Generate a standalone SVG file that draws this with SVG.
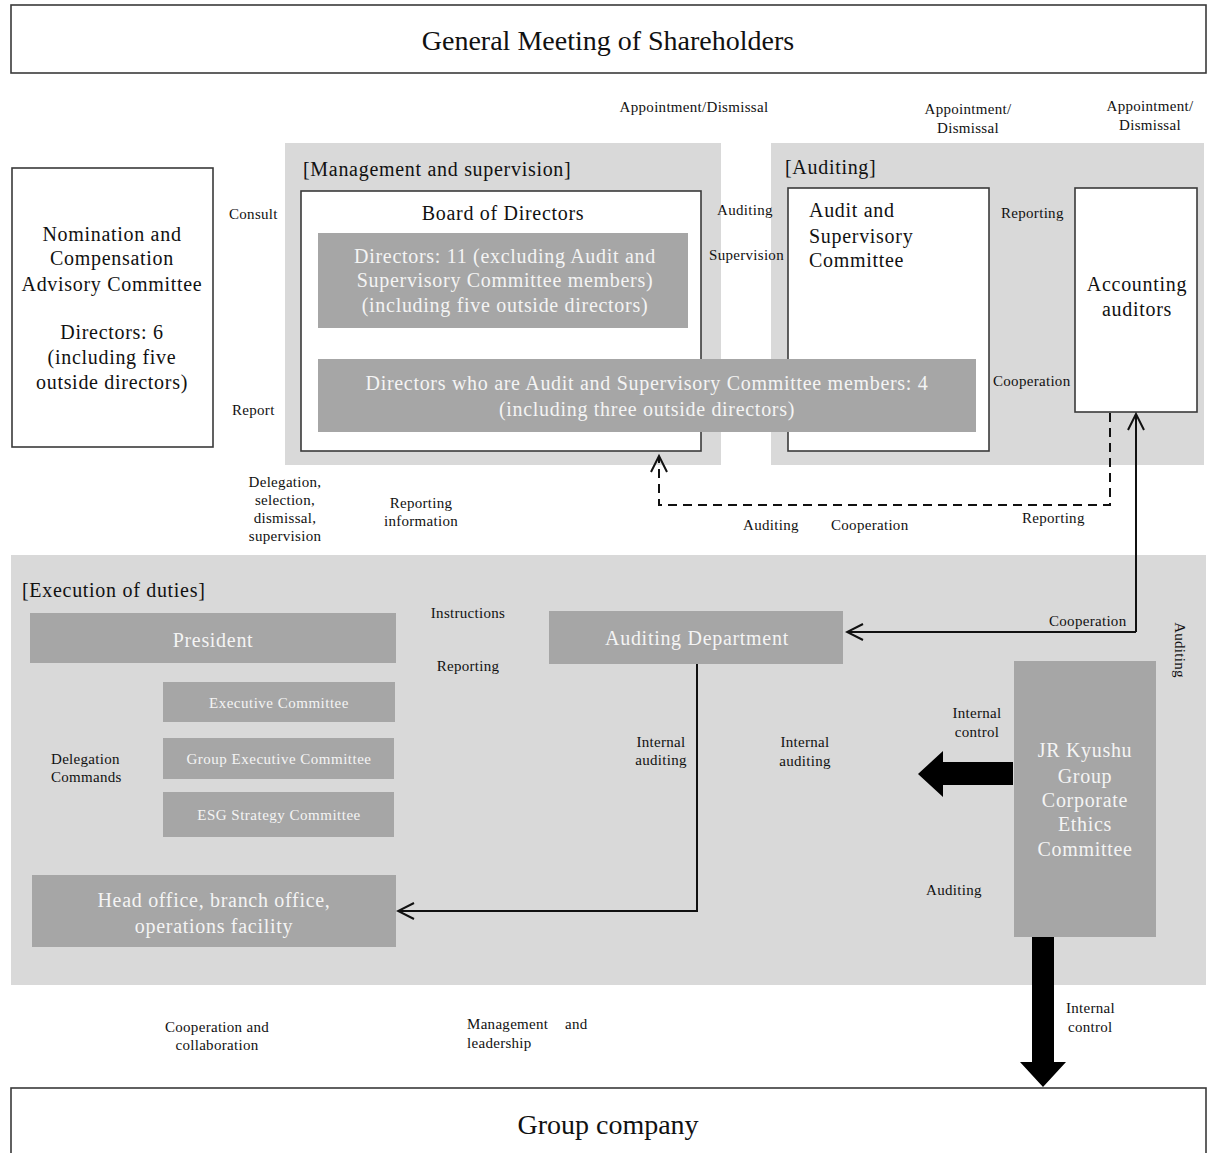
<svg xmlns="http://www.w3.org/2000/svg" width="1208" height="1153" viewBox="0 0 1208 1153">
<style>
text{font-family:"Liberation Serif","Times New Roman",serif;fill:#111}
.big{font-size:28px}
.m{font-size:20px;letter-spacing:0.7px}
.s{font-size:15px;letter-spacing:0.3px}
.xs{font-size:15px;letter-spacing:0.5px}
.w{fill:#f4f4f4}
.c{text-anchor:middle}
.area{fill:#d9d9d9}
.wb{fill:#fff;stroke:#3a3a3a;stroke-width:1.6}
.gb{fill:#a6a6a6}
.ln{fill:none;stroke:#111;stroke-width:2}
.dl{fill:none;stroke:#111;stroke-width:2;stroke-dasharray:9 6}
</style>
<defs>
<marker id="open" viewBox="0 0 20 20" refX="18" refY="10" markerWidth="20" markerHeight="20" markerUnits="userSpaceOnUse" orient="auto">
<path d="M2,2 L18,10 L2,18" fill="none" stroke="#111" stroke-width="2"/>
</marker>
</defs>
<rect width="1208" height="1153" fill="#fff"/>

<g id="areas">
<rect class="area" x="285" y="143" width="436" height="322"/>
<rect class="area" x="771" y="143" width="433" height="322"/>
<rect class="area" x="11" y="555" width="1195" height="430"/>
<text class="m" x="303" y="176">[Management and supervision]</text>
<text class="m" x="785" y="174">[Auditing]</text>
<text class="m" x="22" y="597">[Execution of duties]</text>
</g>

<g id="shareholders">
<rect class="wb" x="11" y="5" width="1195" height="68"/>
<text class="big c" x="608" y="50">General Meeting of Shareholders</text>
</g>

<g id="nomination">
<rect class="wb" x="12" y="168" width="201" height="279"/>
<text class="m c" x="112" y="241">Nomination and</text>
<text class="m c" x="112" y="265">Compensation</text>
<text class="m c" x="112" y="291">Advisory Committee</text>
<text class="m c" x="112" y="339">Directors: 6</text>
<text class="m c" x="112" y="364">(including five</text>
<text class="m c" x="112" y="389">outside directors)</text>
</g>

<g id="board">
<rect class="wb" x="301" y="191" width="400" height="260"/>
<text class="m c" x="503" y="220">Board of Directors</text>
</g>

<g id="directors11">
<rect class="gb" x="318" y="233" width="370" height="95"/>
<text class="m c w" x="505" y="263">Directors: 11 (excluding Audit and</text>
<text class="m c w" x="505" y="287">Supervisory Committee members)</text>
<text class="m c w" x="505" y="312">(including five outside directors)</text>
</g>

<g id="asc">
<rect class="wb" x="788" y="188" width="201" height="263"/>
<text class="m" x="809" y="217">Audit and</text>
<text class="m" x="809" y="243">Supervisory</text>
<text class="m" x="809" y="267">Committee</text>
</g>

<g id="directors4">
<rect class="gb" x="318" y="359" width="658" height="73"/>
<text class="m c w" x="647" y="390">Directors who are Audit and Supervisory Committee members: 4</text>
<text class="m c w" x="647" y="416">(including three outside directors)</text>
</g>

<g id="accounting">
<rect class="wb" x="1075" y="188" width="122" height="224"/>
<text class="m c" x="1137" y="291">Accounting</text>
<text class="m c" x="1137" y="316">auditors</text>
</g>

<g id="president">
<rect class="gb" x="30" y="613" width="366" height="50"/>
<text class="m c w" x="213" y="647">President</text>
</g>
<g id="exec">
<rect class="gb" x="163" y="682" width="232" height="40"/>
<text class="xs c w" x="279" y="708">Executive Committee</text>
</g>
<g id="groupexec">
<rect class="gb" x="163" y="738" width="231" height="41"/>
<text class="xs c w" x="279" y="764">Group Executive Committee</text>
</g>
<g id="esg">
<rect class="gb" x="163" y="792" width="231" height="45"/>
<text class="xs c w" x="279" y="820">ESG Strategy Committee</text>
</g>
<g id="auditdept">
<rect class="gb" x="549" y="611" width="294" height="53"/>
<text class="m c w" x="697" y="645">Auditing Department</text>
</g>
<g id="headoffice">
<rect class="gb" x="32" y="875" width="364" height="72"/>
<text class="m c w" x="214" y="907">Head office, branch office,</text>
<text class="m c w" x="214" y="933">operations facility</text>
</g>
<g id="ethics">
<rect class="gb" x="1014" y="661" width="142" height="276"/>
<text class="m c w" x="1085" y="757">JR Kyushu</text>
<text class="m c w" x="1085" y="783">Group</text>
<text class="m c w" x="1085" y="807">Corporate</text>
<text class="m c w" x="1085" y="831">Ethics</text>
<text class="m c w" x="1085" y="856">Committee</text>
</g>

<g id="groupcompany">
<rect class="wb" x="11" y="1088" width="1195" height="70"/>
<text class="big c" x="608" y="1134">Group company</text>
</g>

<g id="connectors">
<path class="dl" d="M1110,413 V505 H659 V457"/>
<path d="M651,472 L659,456 L667,472" fill="none" stroke="#111" stroke-width="2"/>
<path class="ln" d="M1136,632 V414" marker-end="url(#open)"/>
<path class="ln" d="M1136,632 H847" marker-end="url(#open)"/>
<path class="ln" d="M697,664 V911 H398" marker-end="url(#open)"/>
<polygon points="1013,762 943,762 943,751 918,774 943,797 943,785 1013,785" fill="#000"/>
<polygon points="1032,937 1054,937 1054,1062 1066,1062 1043,1087 1020,1062 1032,1062" fill="#000"/>
</g>

<g id="labels">
<text class="s c" x="694" y="112">Appointment/Dismissal</text>
<text class="s c" x="968" y="114">Appointment/</text>
<text class="s c" x="968" y="133">Dismissal</text>
<text class="s c" x="1150" y="111">Appointment/</text>
<text class="s c" x="1150" y="130">Dismissal</text>
<text class="s" x="229" y="219">Consult</text>
<text class="s" x="232" y="415">Report</text>
<text class="s" x="717" y="215">Auditing</text>
<text class="s" x="709" y="260">Supervision</text>
<text class="s" x="1001" y="218">Reporting</text>
<text class="s" x="993" y="386">Cooperation</text>
<text class="s" x="743" y="530">Auditing</text>
<text class="s" x="831" y="530">Cooperation</text>
<text class="s" x="1022" y="523">Reporting</text>
<text class="s c" x="285" y="487">Delegation,</text>
<text class="s c" x="285" y="505">selection,</text>
<text class="s c" x="285" y="523">dismissal,</text>
<text class="s c" x="285" y="541">supervision</text>
<text class="s c" x="421" y="508">Reporting</text>
<text class="s c" x="421" y="526">information</text>
<text class="s c" x="468" y="618">Instructions</text>
<text class="s c" x="468" y="671">Reporting</text>
<text class="s" x="51" y="764">Delegation</text>
<text class="s" x="51" y="782">Commands</text>
<text class="s c" x="661" y="747">Internal</text>
<text class="s c" x="661" y="765">auditing</text>
<text class="s c" x="805" y="747">Internal</text>
<text class="s c" x="805" y="766">auditing</text>
<text class="s c" x="977" y="718">Internal</text>
<text class="s c" x="977" y="737">control</text>
<text class="s" x="926" y="895">Auditing</text>
<text class="s" x="1049" y="626">Cooperation</text>
<text class="s c" transform="translate(1175,650) rotate(90)">Auditing</text>
<text class="s" x="1066" y="1013">Internal</text>
<text class="s" x="1068" y="1032">control</text>
<text class="s c" x="217" y="1032">Cooperation and</text>
<text class="s c" x="217" y="1050">collaboration</text>
<text class="s" x="467" y="1029">Management <tspan x="565">and</tspan></text>
<text class="s" x="467" y="1048">leadership</text>
</g>
</svg>
